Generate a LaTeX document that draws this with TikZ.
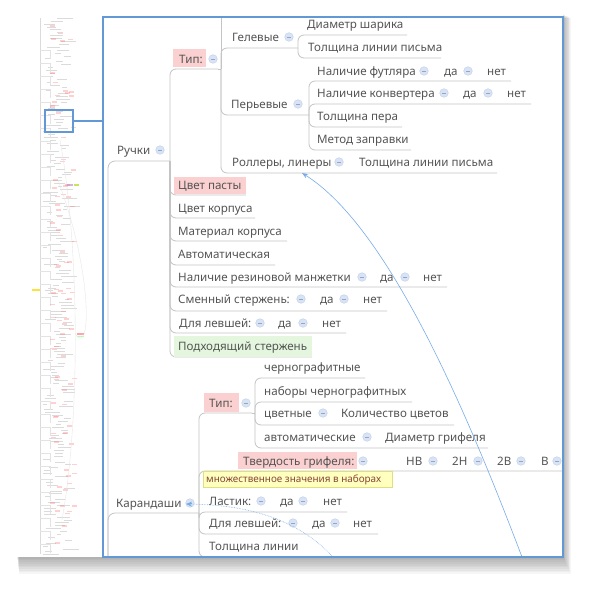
\documentclass[tikz,border=0pt]{standalone}
\usepackage{fontspec}
\setmainfont{Noto Sans}
\usetikzlibrary{arrows.meta}
\definecolor{txtc}{RGB}{85,85,85}
\definecolor{linec}{RGB}{196,196,196}
\definecolor{framec}{RGB}{98,152,212}
\definecolor{pinkc}{RGB}{251,208,208}
\definecolor{greenc}{RGB}{228,247,222}
\definecolor{yelc}{RGB}{255,255,190}
\definecolor{yelb}{RGB}{222,222,130}
\definecolor{notec}{RGB}{135,70,60}
\definecolor{circf}{RGB}{216,228,246}
\definecolor{circd}{RGB}{190,206,234}
\definecolor{relc}{RGB}{120,172,232}
\tikzset{
  txt/.style={anchor=west,inner sep=0pt,text height=8.4pt,text depth=0pt,text=txtc,font=\fontsize{11.6}{13}\selectfont},
  conn/.style={draw=linec,line width=0.8pt,rounded corners=6pt},
  pinkbox/.style={fill=pinkc,draw=none},
  greenbox/.style={fill=greenc,draw=none},
  thumb/.style={draw=black!14,line width=0.35pt},
  rel/.style={draw=relc,line width=0.6pt},
}
\newcommand\tx[4]{\node[txt] (#1) at (#2,#3) {#4};}
\newcommand\cb[2]{\fill[circf,draw=circd,line width=0.4pt] (#1,#2) circle (4.3pt);
  \draw[circd!80!black,line width=0.5pt] (#1-1.8,#2) -- (#1+1.8,#2);}
\newcommand\br[5]{\draw[conn] (#1,#2) -- (#1,#3) -- (#4,#3);}% spine x, parent y, child y, end x
\begin{document}
\begin{tikzpicture}[x=1pt,y=-1pt]
\useasboundingbox (0,0) rectangle (600,600);
% shadows
\foreach \k in {1,...,10}{
  \fill[black,opacity=0.035] (17+\k*0.2,14+\k*0.4) rectangle (563+\k*0.8,557+\k*1.7);
}
\fill[white] (17,14) rectangle (563,557);
% thumbnail overview
\draw[thumb] (40,18) -- (40,554);
\pgfmathsetseed{11}
\foreach \i in {0,...,185}{
  \pgfmathsetmacro\yy{18+\i*2.9}
  \pgfmathsetmacro\xx{43+22*rnd}
  \pgfmathsetmacro\ll{4+12*rnd}
  \draw[thumb] (\xx,\yy) -- ++(\ll,0);
}
\foreach \i in {0,...,38}{
  \pgfmathsetmacro\yy{50+\i*13}
  \draw[thumb,black!11] (40,\yy) -- (50,\yy) -- (50,\yy+9);
}
\foreach \i in {0,...,90}{
  \pgfmathsetmacro\yy{20+530*rnd}
  \pgfmathsetmacro\xx{50+22*rnd}
  \fill[red!60,opacity=0.3] (\xx,\yy) rectangle ++(5,1.6);
}
\fill[yellow!80!orange,opacity=0.8] (32,289) rectangle (40,291);
\fill[red!60,opacity=0.6] (77,333) rectangle (84,335);
\fill[green!50,opacity=0.6] (77,335.5) rectangle (84,337);
\fill[violet!50,opacity=0.6] (66,184) rectangle (73,186);
\fill[yellow!70!green,opacity=0.7] (74,184) rectangle (79,186);
\draw[thumb,black!10] (60,140) .. controls (80,250) and (80,420) .. (62,520);
\draw[thumb,black!10] (58,180) .. controls (95,280) and (90,360) .. (75,333);
% viewport marker
\draw[framec,line width=2pt] (45,110) rectangle (73,132);
\draw[framec,line width=2pt] (73,121) -- (103,121);

% ---------------- main view ----------------
\begin{scope}
\clip (103,17) rectangle (563,557);
% outer spine
\draw[conn,rounded corners=7pt] (170,161) -- (108,161) -- (108,620);
\draw[conn,rounded corners=7pt] (199,513) -- (108,513) -- (108,620);
% ---- Ручки
\tx{ruchki}{117}{150}{Ручки}\cb{160}{150}
\br{170}{161}{69}{218}{}
\br{170}{161}{195}{246}{}
\br{170}{161}{218}{255}{}
\br{170}{161}{241}{287}{}
\br{170}{161}{265}{275}{}
\br{170}{161}{287}{447}{}
\br{170}{161}{311}{387}{}
\br{170}{161}{333}{346}{}
\br{170}{161}{357}{312}{}
% Тип:
\fill[pinkbox] (173,49) rectangle (206,67);
\tx{tip}{179}{59}{Тип:}\cb{213}{59}
\draw[conn] (218,69) -- (221,69);
\draw[conn] (221,69) -- (221,0);
\br{221}{69}{48}{298}{}
\br{221}{69}{115}{309}{}
\br{221}{69}{173}{497}{}
\tx{gel}{232}{37}{Гелевые}\cb{289}{37}
\br{298}{48}{35}{407}{}
\br{298}{48}{58}{441}{}
\tx{diam}{307}{24}{Диаметр шарика}
\tx{tol1}{308}{47}{Толщина линии письма}
\tx{per}{231}{104}{Перьевые}\cb{298}{104}
\br{309}{115}{81}{511}{}
\br{309}{115}{104}{531}{}
\br{309}{115}{127}{402}{}
\br{309}{115}{150}{411}{}
\tx{fut}{317}{71}{Наличие футляра}\cb{424}{71}
\tx{fda}{444}{71}{да}\cb{468}{71}
\tx{fnet}{487}{71}{нет}
\tx{konv}{317}{93}{Наличие конвертера}\cb{444}{93}
\tx{kda}{463}{93}{да}\cb{488}{93}
\tx{knet}{507}{93}{нет}
\tx{tper}{317}{116}{Толщина пера}
\tx{metod}{317}{139}{Метод заправки}
\tx{roll}{232}{162}{Роллеры, линеры}\cb{339}{162}
\tx{tol2}{359}{162}{Толщина линии письма}
% other Ручки children
\fill[pinkbox] (174,177) rectangle (246,194);
\tx{cvpast}{178}{185}{Цвет пасты}
\tx{cvkorp}{178}{208}{Цвет корпуса}
\tx{mat}{178}{231}{Материал корпуса}
\tx{avto}{178}{254}{Автоматическая}
\tx{manzh}{178}{277}{Наличие резиновой манжетки}\cb{362}{277}
\tx{mda}{380}{277}{да}\cb{405}{277}
\tx{mnet}{423}{277}{нет}
\tx{smen}{178}{299}{Сменный стержень:}\cb{301}{299}
\tx{sda}{320}{299}{да}\cb{344}{299}
\tx{snet}{363}{299}{нет}
\tx{lev1}{179}{323}{Для левшей:}\cb{260}{323}
\tx{lda}{278}{323}{да}\cb{303}{323}
\tx{lnet}{322}{323}{нет}
\fill[greenbox] (174,336) rectangle (312,357);
\tx{podh}{178}{346}{Подходящий стержень}
% ---- Карандаши
\tx{karand}{116}{503}{Карандаши}\cb{190}{503}
\br{199}{513}{413}{252}{}
\br{199}{513}{471}{600}{}
\br{199}{513}{512}{347}{}
\br{199}{513}{534}{378}{}
\br{199}{513}{557}{300}{}
\fill[pinkbox] (204,393) rectangle (239,412);
\tx{tip2}{209}{403}{Тип:}\cb{246}{403}
\br{255}{413}{378}{365}{}
\br{255}{413}{402}{412}{}
\br{255}{413}{425}{454}{}
\br{255}{413}{448}{488}{}
\draw[conn] (252,413) -- (255,413);
\tx{chern}{264}{367}{чернографитные}
\tx{nabor}{264}{391}{наборы чернографитных}
\tx{cvet}{264}{413}{цветные}\cb{323}{413}
\tx{kolvo}{341}{413}{Количество цветов}
\tx{avt2}{264}{437}{автоматические}\cb{367}{437}
\tx{dgrif}{385}{437}{Диаметр грифеля}
\fill[pinkbox] (238,452) rectangle (357,469);
\tx{tverd}{243}{461}{Твердость грифеля:}\cb{363}{461}
\tx{hb}{406}{461}{HB}\cb{433}{461}
\tx{h2}{452}{461}{2H}\cb{478}{461}
\tx{b2}{497}{461}{2B}\cb{521}{461}
\tx{b1}{541}{461}{B}\cb{557}{461}
\draw[fill=yelc,draw=yelb,line width=0.5pt] (203,471) rectangle (392,487);
\node[txt,text=notec,font=\fontsize{9.9}{11}\selectfont,text height=7.2pt] (mnozh) at (206,479.3) {множественное значения в наборах};
\tx{last}{209}{501}{Ластик:}\cb{261}{501}
\tx{lda2}{280}{501}{да}\cb{303}{501}
\tx{lnet2}{323}{501}{нет}
\tx{lev2}{209}{523}{Для левшей:}\cb{293}{523}
\tx{lvda}{312}{523}{да}\cb{335}{523}
\tx{lvnet}{353}{523}{нет}
\tx{tlin}{209}{546}{Толщина линии}
% relationship arrows
\coordinate (relA0) at (522,557);
\coordinate (relA1) at (302,173);
\draw[rel,-{Stealth[length=6pt,width=4.5pt]}] (relA0) .. controls (470,420) and (390,228) .. (relA1);
\coordinate (relB0) at (333,557);
\coordinate (relB1) at (186,504);
\draw[rel,densely dotted,-{Stealth[length=6pt,width=5pt]}] (relB0) .. controls (300,522) and (255,505) .. (relB1);
\end{scope}
\draw[framec,line width=2.2pt] (103,17) rectangle (563,557);
\end{tikzpicture}
\end{document}
